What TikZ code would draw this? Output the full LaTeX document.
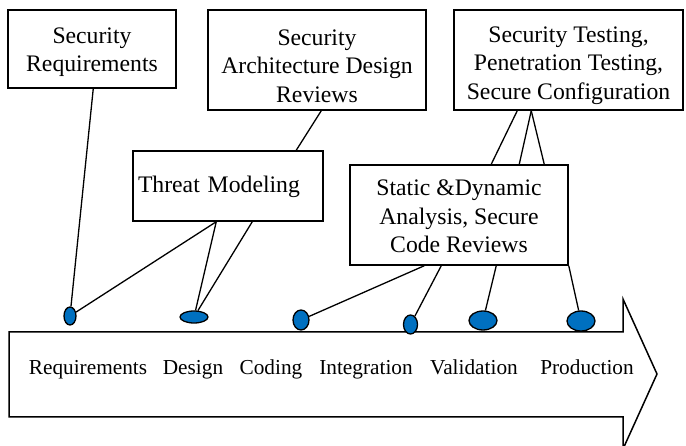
\documentclass[tikz,border=0pt]{standalone}
\usepackage{fontspec}
\setmainfont{Liberation Serif}
\usetikzlibrary{shapes.geometric}
\definecolor{dotblue}{RGB}{0,112,192}
% invisible strut that pushes a box's first line downwards
\newcommand{\toppad}[1]{\rule{0pt}{#1}}
\begin{document}
\begin{tikzpicture}[x=1pt,y=-1pt,
  box/.style={draw,line width=1.5pt,rectangle,inner sep=0pt,align=center,
    font=\fontsize{23.7}{28.4}\selectfont},
  link/.style={line width=1.3pt},
  dot/.style={draw,line width=1.3pt,ellipse,fill=dotblue,inner sep=0pt},
  stage/.style={anchor=base,inner sep=0pt,font=\fontsize{21.3}{25}\selectfont}]
\useasboundingbox (0,0) rectangle (686,446);

% activity boxes
\node[box,minimum width=168pt,minimum height=78pt] (secreq) at (92,49)
  {\toppad{22pt}Security\\Requirements};
\node[box,minimum width=218pt,minimum height=100pt] (secarch) at (317,60)
  {\toppad{28pt}Security\\Architecture Design\\Reviews};
\node[box,minimum width=229pt,minimum height=100pt] (sectest) at (568.5,60)
  {\toppad{27pt}Security Testing,\\Penetration Testing,\\Secure Configuration};
\node[box,minimum width=190pt,minimum height=70pt,align=left,text width=180pt] (threat) at (228,186)
  {\toppad{19pt}Threat Modeling};
\node[box,minimum width=218pt,minimum height=100pt] (static) at (459,215)
  {\toppad{19pt}Static \&Dynamic\\Analysis, Secure\\Code Reviews};

% lifecycle arrow
\draw[line width=1.5pt,line join=miter]
  (9,332) -- (623,332) -- (623,299) -- (657,374) -- (623,449) -- (623,417) -- (9,417) -- cycle;

\node[stage] (lreq) at (88,375) {Requirements};
\node[stage] (ldes) at (193,375) {Design};
\node[stage] (lcod) at (271,375) {Coding};
\node[stage] (lint) at (366,375) {Integration};
\node[stage] (lval) at (474,375) {Validation};
\node[stage] (lpro) at (587,375) {Production};

% phase markers
\node[dot,minimum width=12pt,minimum height=18pt] (req) at (70,316) {};
\node[dot,minimum width=28pt,minimum height=12pt] (des) at (194,317) {};
\node[dot,minimum width=16pt,minimum height=20pt] (cod) at (301,320) {};
\node[dot,minimum width=14pt,minimum height=19pt] (int) at (410.5,324.5) {};
\node[dot,minimum width=28pt,minimum height=19pt] (val) at (483,320.5) {};
\node[dot,minimum width=28pt,minimum height=20pt] (prod) at (581,321) {};

% connectors
\draw[link] ([xshift=86pt]secreq.south west) -- (req);
\draw[link] ([xshift=84pt]threat.south west) -- (req);
\draw[link] ([xshift=84pt]threat.south west) -- (des);
\draw[link] ([xshift=120pt]threat.south west) -- (des);
\draw[link] ([xshift=114pt]secarch.south west) -- ([xshift=164pt]threat.north west);
\draw[link] ([xshift=64pt]sectest.south west) -- ([xshift=142pt]static.north west);
\draw[link] ([xshift=78pt]sectest.south west) -- ([xshift=170pt]static.north west);
\draw[link] ([xshift=78pt]sectest.south west) -- ([xshift=195pt]static.north west);
\draw[link] ([xshift=75pt]static.south west) -- (cod);
\draw[link] ([xshift=92pt]static.south west) -- (int);
\draw[link] ([xshift=147pt]static.south west) -- (val);
\draw[link] (static.south east) -- (prod);
\end{tikzpicture}
\end{document}
